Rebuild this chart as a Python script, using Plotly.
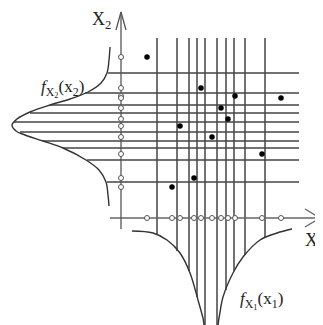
import plotly.graph_objects as go

# sample points (x1, x2)
pts_x1 = [2.6, 8.0, 11.4, 16.0, 10.0, 10.7, 5.9, 9.1, 14.1, 7.3, 5.1]
pts_x2 = [16.1, 13.0, 12.2, 12.0, 11.0, 9.9, 9.2, 8.1, 6.4, 4.0, 3.1]

# vertical grid lines and where they stop on f_X1
grid_x = [3.6, 5.6, 6.8, 7.6, 8.4, 9.6, 10.5, 11.3, 12.4, 14.4]
grid_x_end = [-1.7, -3.3, -5.3, -7.9, -11.2, -11.2, -7.2, -5.3, -3.7, -2.0]

# horizontal grid lines and where they start on f_X2
grid_y = [14.5, 12.5, 11.3, 10.5, 9.6, 8.6, 7.7, 7.0, 5.8, 3.6]
grid_y_start = [-1.3, -3.6, -7.1, -9.1, -10.7, -10.1, -7.8, -5.8, -3.4, -1.4]

# density curves
fx2_x = [-1.1, -1.2, -1.4, -2.0, -3.3, -5.1, -7.1, -9.1, -10.4, -10.9, -10.5, -9.6, -7.8, -5.8, -3.5, -2.2, -1.5, -1.3, -1.2]
fx2_y = [17.1, 15.8, 14.5, 13.5, 12.6, 11.9, 11.3, 10.6, 9.9, 9.3, 8.7, 8.3, 7.7, 7.0, 5.8, 4.8, 3.6, 2.3, 1.2]
fx1_x = [1.1, 3.2, 4.6, 5.9, 6.9, 7.7, 8.2, 8.5, 9.5, 9.8, 10.2, 11.2, 12.2, 13.9, 15.6, 17.1]
fx1_y = [-1.3, -1.5, -2.2, -3.5, -5.5, -8.2, -10.0, -11.2, -11.2, -10.0, -7.9, -5.5, -3.9, -2.2, -1.5, -1.1]

GRID_TOP = 18.0
GRID_RIGHT = 17.8
LINE = '#444'
SERIF = 'Liberation Serif'

fig = go.Figure()

# grid lines
vx, vy = [], []
for x, yb in zip(grid_x, grid_x_end):
    vx += [x, x, None]
    vy += [GRID_TOP, yb, None]
hx, hy = [], []
for y, xs in zip(grid_y, grid_y_start):
    hx += [xs, GRID_RIGHT, None]
    hy += [y, y, None]
fig.add_trace(go.Scatter(x=vx, y=vy, mode='lines', line=dict(color=LINE, width=1.5)))
fig.add_trace(go.Scatter(x=hx, y=hy, mode='lines', line=dict(color=LINE, width=1.5)))

# axes with open arrow heads
fig.add_trace(go.Scatter(x=[-1.1, 19.9, None, 18.4, 19.9, 18.4],
                         y=[0, 0, None, 0.9, 0, -0.9],
                         mode='lines', line=dict(color='#666', width=1.3)))
fig.add_trace(go.Scatter(x=[0, 0, None, -0.5, 0, 0.5],
                         y=[-1.1, 20.6, None, 18.8, 20.6, 18.8],
                         mode='lines', line=dict(color='#555', width=1.3)))

# density curves
fig.add_trace(go.Scatter(x=fx2_x, y=fx2_y, mode='lines', line=dict(color='#333', width=1.4, shape='spline')))
fig.add_trace(go.Scatter(x=fx1_x, y=fx1_y, mode='lines', line=dict(color='#333', width=1.4, shape='spline')))

# projections onto the axes
fig.add_trace(go.Scatter(x=pts_x1, y=[0] * len(pts_x1), mode='markers',
                         marker=dict(symbol='circle', size=5, color='white', line=dict(color='#555', width=1))))
fig.add_trace(go.Scatter(x=[0] * len(pts_x2), y=pts_x2, mode='markers',
                         marker=dict(symbol='circle', size=5, color='white', line=dict(color='#555', width=1))))

# points
fig.add_trace(go.Scatter(x=pts_x1, y=pts_x2, mode='markers', marker=dict(color='black', size=5.5)))

fig.add_annotation(x=-2.0, y=19.8, text='X<sub>2</sub>', showarrow=False,
                   font=dict(family=SERIF, size=18, color='#222'))
fig.add_annotation(x=19.0, y=-2.2, text='X', showarrow=False,
                   font=dict(family=SERIF, size=18, color='#222'))
fig.add_annotation(x=-5.9, y=13.0, text='<i>f</i><sub>X<sub>2</sub></sub>(x<sub>2</sub>)', showarrow=False,
                   font=dict(family=SERIF, size=17, color='#222'))
fig.add_annotation(x=14.0, y=-8.2, text='<i>f</i><sub>X<sub>1</sub></sub>(x<sub>1</sub>)', showarrow=False,
                   font=dict(family=SERIF, size=17, color='#222'))

# the page body keeps an 8px margin, so the figure is 8px smaller and the ranges start 0.8 units in
fig.update_layout(
    width=315, height=317,
    margin=dict(l=0, r=0, t=0, b=0),
    plot_bgcolor='white', paper_bgcolor='white',
    showlegend=False,
    xaxis=dict(range=[-11.3, 20.2], visible=False, fixedrange=True),
    yaxis=dict(range=[-10.7, 21.0], visible=False, fixedrange=True),
)

fig.write_html("out.html")
